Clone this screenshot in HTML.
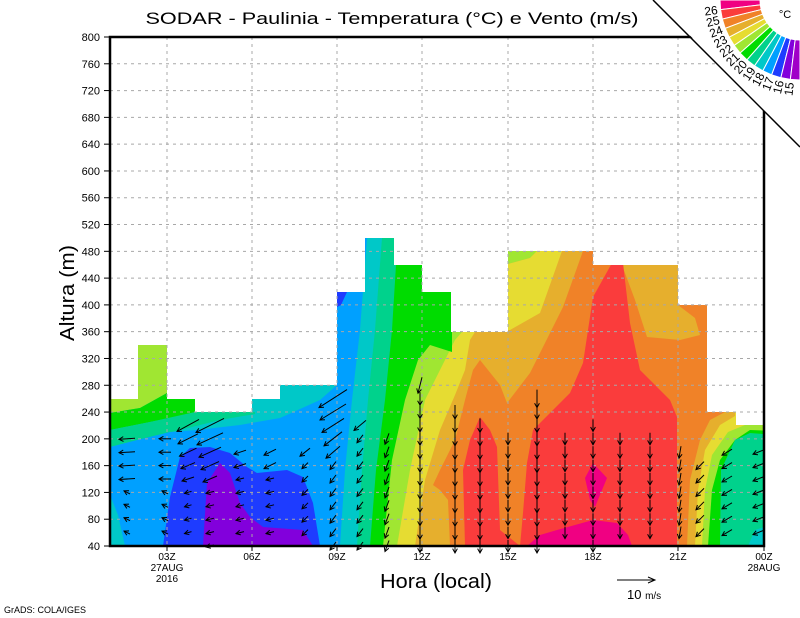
<!DOCTYPE html>
<html><head><meta charset="utf-8">
<style>html,body{margin:0;padding:0;background:#fff;}svg{display:block;font-family:"Liberation Sans",sans-serif;}</style>
</head><body>
<svg id="s" width="800" height="618" viewBox="0 0 800 618" xmlns="http://www.w3.org/2000/svg">
<defs>
<clipPath id="dc"><path d="M110,546 L110,399 L138,399 L138,345 L167,345 L167,399 L195,399 L195,412 L252,412 L252,399 L280,399 L280,385 L337,385 L337,292 L365,292 L365,238 L394,238 L394,265 L422,265 L422,292 L451,292 L451,332 L508,332 L508,251 L593,251 L593,265 L678,265 L678,305 L707,305 L707,412 L736,412 L736,425 L764,425 L764,546 Z"/></clipPath>
</defs>
<g clip-path="url(#dc)">
<rect x="100" y="200" width="700" height="400" fill="#f08228"/>
<polygon fill="#e6af2d" points="450,546 448,500 440,490 433,485 440,470 455,440 465,400 473,370 480,360 500,385 507,403 530,373 563,307 583,251 583,0 110,0 110,546"/>
<polygon fill="#e6dc32" points="415,546 425,480 440,430 455,395 465,370 470,340 475,332 475,0 110,0 110,546"/>
<polygon fill="#a0e632" points="397,546 410,470 425,400 440,370 455,340 462,332 462,0 110,0 110,546"/>
<polygon fill="#00dc00" points="383,546 392,460 405,400 418,360 430,345 452,352 452,0 110,0 110,546"/>
<polygon fill="#00d28c" points="370,546 376,470 385,400 392,330 396,265 398,238 398,0 110,0 110,546"/>
<polygon fill="#00c8c8" points="357,546 362,470 368,400 375,330 382,238 382,0 110,0 110,546"/>
<polygon fill="#a0e632" points="110,0 200,0 200,390 167,393 140,408 110,413"/>
<polygon fill="#00dc00" points="110,413 140,408 167,393 200,392 200,412 195,413 150,422 110,430"/>
<polygon fill="#00d28c" points="110,430 150,422 195,412 255,412 255,414 220,420 180,430 140,440 110,447"/>
<polygon fill="#00a0ff" points="110,447 137,440 170,432 197,430 240,425 280,418 320,400 337,385 337,200 367,200 367,238 360,330 352,400 345,470 340,546 110,546"/>
<polygon fill="#00c8c8" points="110,495 118,515 125,546 110,546"/>
<polygon fill="#1e3cff" points="163,546 170,497 180,457 190,448 210,447 230,453 247,467 257,473 287,470 303,477 313,503 320,546"/>
<polygon fill="#8200dc" points="203,546 207,483 220,463 230,473 240,503 250,517 263,527 303,530 313,546"/>
<polygon fill="#1e3cff" points="337,292 347,292 341,305 337,307"/>
<polygon fill="#a0e632" points="508,251 537,251 530,258 508,264"/>
<polygon fill="#e6dc32" points="508,264 530,258 537,251 562,251 540,313 510,330 508,330"/>
<polygon fill="#e6af2d" points="622,265 678,265 678,305 695,318 700,335 680,340 647,337 635,300"/>
<polygon fill="#fa3c3c" points="612,263 623,263 630,323 640,370 670,400 677,417 677,546 520,546 523,513 527,463 533,430 570,393 583,363 593,297"/>
<polygon fill="#fa3c3c" points="480,417 490,430 497,447 500,530 520,546 465,546 463,470 470,440"/>
<polygon fill="#f00082" points="527,546 540,535 557,530 593,520 617,523 628,535 632,546"/>
<polygon fill="#f00082" points="585,478 593,463 607,478 595,507 590,500"/>
<polygon fill="#e6af2d" points="687,546 690,480 700,440 710,420 725,412 725,0 800,0 800,546"/>
<polygon fill="#e6dc32" points="695,546 698,490 705,450 720,425 735,416 740,0 800,0 800,546"/>
<polygon fill="#a0e632" points="702,546 705,490 712,455 728,432 745,425 745,0 800,0 800,546"/>
<polygon fill="#00dc00" points="708,546 712,490 720,460 735,440 750,430 800,432 800,546"/>
<polygon fill="#00d28c" points="720,546 721,470 735,440 750,433 800,437 800,546"/>
<polygon fill="#00c8c8" points="748,546 755,530 800,515 800,546"/>
</g>
<g id="grid" stroke="#a8a8a8" stroke-width="1" stroke-dasharray="3,4"></g>
<g id="arrows" stroke="#000" stroke-width="1" fill="none"></g>
<g id="labels" font-size="11" fill="#000"></g>
<rect x="110" y="37" width="654" height="509" fill="none" stroke="#000" stroke-width="2.5"/>
<polygon points="653,-2 802,-2 802,149" fill="#fff"/>
<line x1="653" y1="0" x2="800" y2="147" stroke="#000" stroke-width="1.5"/>
<g id="cbar"></g>
<text x="785" y="18" font-size="11" text-anchor="middle">°C</text>
<text x="392" y="24" font-size="17" text-anchor="middle" textLength="493" lengthAdjust="spacingAndGlyphs">SODAR - Paulinia - Temperatura (°C) e Vento (m/s)</text>
<text transform="translate(74,293) rotate(-90)" font-size="20" text-anchor="middle" textLength="96" lengthAdjust="spacingAndGlyphs">Altura (m)</text>
<text x="436" y="588" font-size="20" text-anchor="middle" textLength="112" lengthAdjust="spacingAndGlyphs">Hora (local)</text>
<line x1="617" y1="580" x2="654" y2="580" stroke="#000" stroke-width="1"/>
<polyline points="648,577 655,580 648,583" stroke="#000" fill="none" stroke-width="1"/>
<text x="627" y="599" font-size="13">10 <tspan font-size="10">m/s</tspan></text>
<text x="4" y="613" font-size="9">GrADS: COLA/IGES</text>
</svg>
<script>
var NS="http://www.w3.org/2000/svg";
function el(p,t,a,txt){var e=document.createElementNS(NS,t);for(var k in a)e.setAttribute(k,a[k]);if(txt!==undefined)e.textContent=txt;p.appendChild(e);return e;}
function Y(v){return 546-(v-40)*509/760;}
var g=document.getElementById('grid'),L=document.getElementById('labels');
for(var v=40;v<=800;v+=40){var y=Y(v);if(v>40&&v<800)el(g,'line',{x1:110,x2:764,y1:y,y2:y});
el(L,'text',{x:100,y:y+4,'text-anchor':'end'},String(v));el(L,'line',{x1:104,x2:110,y1:y,y2:y,stroke:'#000'});}
var xs=[[167,'03Z','27AUG','2016'],[252,'06Z'],[337,'09Z'],[422,'12Z'],[508,'15Z'],[593,'18Z'],[678,'21Z'],[764,'00Z','28AUG']];
xs.forEach(function(t){if(t[0]<764)el(g,'line',{x1:t[0],x2:t[0],y1:37,y2:546});
el(L,'line',{x1:t[0],x2:t[0],y1:546,y2:551,stroke:'#000'});
for(var i=1;i<t.length;i++)el(L,'text',{x:t[0],y:560+(i-1)*11,'text-anchor':'middle','font-size':10},t[i]);});
var A=document.getElementById('arrows');
function arr(cx,cy,dx,dy){var x1=cx-dx/2,y1=cy-dy/2,x2=cx+dx/2,y2=cy+dy/2;el(A,'line',{x1:x1,y1:y1,x2:x2,y2:y2});
var l=Math.hypot(dx,dy);if(l<0.1)return;var ux=dx/l,uy=dy/l,h=5,c=Math.cos(0.5),s=Math.sin(0.5);
el(A,'polyline',{points:(x2-h*(ux*c-uy*s))+','+(y2-h*(uy*c+ux*s))+' '+x2+','+y2+' '+(x2-h*(ux*c+uy*s))+','+(y2-h*(uy*c-ux*s))});}
function col(x,spec){spec.forEach(function(s){for(var k=s[0];k<=s[1];k++)arr(x,546-13.4*k,s[2],s[3]);});}
col(127,[[1,4,-6,-3],[5,8,-16,1]]);
col(165,[[1,4,-6,-3],[5,8,-12,0]]);
col(188,[[1,4,-7,2],[5,5,-12,4],[6,6,-14,6],[7,7,-17,8],[8,8,-20,10],[9,9,-22,12]]);
col(210,[[0,4,-8,2],[5,5,-14,6],[6,6,-18,8],[7,7,-22,10],[8,8,-26,12],[9,9,-28,14]]);
col(240,[[1,5,-8,2],[6,7,-12,4]]);
col(270,[[1,5,-8,2],[6,7,-12,6]]);
col(305,[[1,6,-6,6],[7,7,-10,8]]);
col(333,[[0,6,-6,8],[7,7,-14,12],[8,8,-18,14],[9,9,-22,14],[10,10,-26,16],[11,11,-28,18]]);
col(360,[[0,8,-6,8],[9,9,-12,10]]);
col(387,[[0,8,-4,11]]);
col(420,[[0,11,0,13],[12,12,-4,16]]);
col(455,[[0,10,0,14]]);
col(480,[[0,9,0,14]]);
col(508,[[0,8,0,12]]);
col(537,[[0,10,0,14],[11,11,0,18]]);
col(565,[[1,8,0,12]]);
col(593,[[0,9,0,12]]);
col(620,[[1,8,0,12]]);
col(650,[[1,8,0,12]]);
col(680,[[1,7,-2,12]]);
col(700,[[1,6,-8,8]]);
col(727,[[1,7,-10,6]]);
col(758,[[1,7,-10,4]]);
var C=document.getElementById('cbar');
var cols=['#f00082','#fa3c3c','#f08228','#e6af2d','#e6dc32','#a0e632','#00dc00','#00d28c','#00c8c8','#00a0ff','#1e3cff','#8200dc','#a000c8'];
var cx=800,cy=0,r1=40,r2=80,n=13,st=90/n;
function P(r,a){var t=a*Math.PI/180;return [cx+r*Math.cos(t),cy+r*Math.sin(t)];}
for(var i=0;i<n;i++){var a1=180-i*st,a2=180-(i+1)*st;var p1=P(r1,a1),p2=P(r2,a1),p3=P(r2,a2),p4=P(r1,a2);
el(C,'polygon',{points:[p1,p2,p3,p4].map(function(p){return p.join(',')}).join(' '),fill:cols[i],stroke:'#fff','stroke-width':1});}
for(var k=1;k<=12;k++){var a=180-k*st,p=P(83,a);
el(C,'text',{x:p[0],y:p[1],'font-size':12,'text-anchor':'end','dominant-baseline':'central',transform:'rotate('+(a-180)+' '+p[0]+' '+p[1]+')'},String(27-k));}
</script>
</body></html>
